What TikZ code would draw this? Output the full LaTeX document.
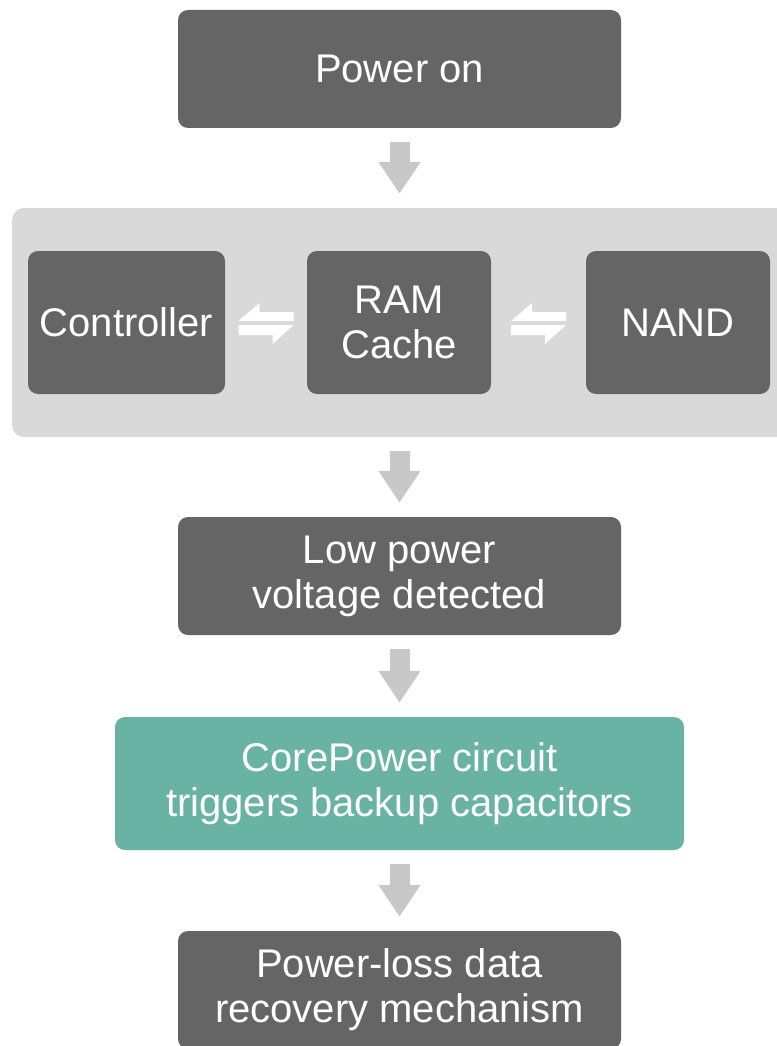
\documentclass[tikz,border=0pt]{standalone}
\usepackage{fontspec}
\setmainfont{Liberation Sans}
\usepackage{tikz}
\usetikzlibrary{arrows.meta,positioning,calc}
\definecolor{boxgrey}{HTML}{646564}
\definecolor{panelgrey}{HTML}{D9D9D9}
\definecolor{arrowgrey}{HTML}{C8C8C8}
\definecolor{coregreen}{HTML}{69B3A4}
\newcommand{\bigfont}{\fontsize{40}{45}\selectfont}

\begin{document}
\begin{tikzpicture}[
    x=1pt, y=-1pt,
    stage/.style={rectangle, rounded corners=10pt, fill=boxgrey, text=white,
                  font=\bigfont, align=center, inner sep=0pt},
    down/.style={draw=arrowgrey, line width=20pt, shorten <=14pt, shorten >=14pt,
                 -{Triangle[width=40pt,length=32pt]}},
    harp/.style={fill=white}
]
\useasboundingbox (0,0) rectangle (776,1046);

\node[stage, minimum width=443pt, minimum height=118pt] (power) at (399.5, 69) {Power on};

\node[rectangle, rounded corners=12pt, fill=panelgrey, minimum width=778pt,
      minimum height=229pt] (panel) at (401, 322.5) {};
\node[stage, minimum width=197pt, minimum height=143pt] (ctrl) at (126.5, 322.5) {Controller};
\node[stage, minimum width=184pt, minimum height=143pt] (ram) at (399, 322.5) {RAM\\Cache};
\node[stage, minimum width=184pt, minimum height=143pt] (nand) at (678, 322.5) {NAND};

\node[stage, minimum width=443pt, minimum height=118pt] (low) at (399.5, 576) {Low power\\voltage detected};
\node[stage, fill=coregreen, minimum width=569pt, minimum height=133pt] (core) at (399.5, 783.5)
    {CorePower circuit\\triggers backup capacitors};
\node[stage, minimum width=443pt, minimum height=118pt] (loss) at (399.5, 990) {Power-loss data\\recovery mechanism};

% flow arrows
\draw[down] (power.south) -- (power.south |- panel.north);
\draw[down] (low.north |- panel.south) -- (low.north);
\draw[down] (low) -- (core);
\draw[down] (core) -- (loss);

% data exchange between the parts
\foreach \l/\r in {ctrl/ram, ram/nand} {
  \fill[harp, shift={($(\l.east)!.5!(\r.west)$)}]
    (-27.5,-1.5) -- (-6.5,-19.5) -- (-6.5,-10.5) -- (27.5,-10.5) -- (27.5,-1.5) -- cycle;
  \fill[harp, shift={($(\l.east)!.5!(\r.west)$)}]
    (27.5,2.5) -- (6.5,21.5) -- (6.5,12.5) -- (-27.5,12.5) -- (-27.5,2.5) -- cycle;
}
\end{tikzpicture}
\end{document}
